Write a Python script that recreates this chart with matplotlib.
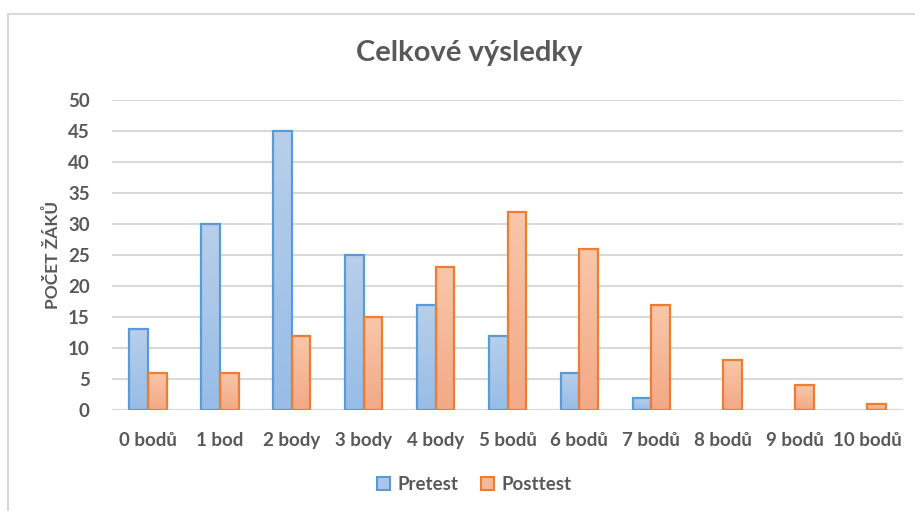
import numpy as np
import matplotlib.pyplot as plt
from matplotlib.colors import LinearSegmentedColormap
from matplotlib.patches import Patch

# Počty žáků podle získaných bodů
categories = ['0 bodů', '1 bod', '2 body', '3 body', '4 body', '5 bodů',
              '6 bodů', '7 bodů', '8 bodů', '9 bodů', '10 bodů']
pretest = [13, 30, 45, 25, 17, 12, 6, 2, 0, 0, 0]
posttest = [6, 6, 12, 15, 23, 32, 26, 17, 8, 4, 1]
y_ticks = [0, 5, 10, 15, 20, 25, 30, 35, 40, 45, 50]

TEXT = '#595959'
plt.rcParams['font.family'] = ['Lato', 'DejaVu Sans']
plt.rcParams['font.weight'] = 'bold'
plt.rcParams['axes.labelweight'] = 'bold'

fig = plt.figure(figsize=(9.15, 5.11), dpi=100)
ax = fig.add_axes([0.1224, 0.1977, 0.8645, 0.6066])

# rámeček grafu
fig.add_artist(plt.Line2D([0.0087, 0.0087], [0.0, 0.973], color='#d9d9d9', lw=1.5))
fig.add_artist(plt.Line2D([0.0087, 1.0], [0.973, 0.973], color='#d9d9d9', lw=1.5))

x = np.arange(len(categories))
w = 0.26

def gradient_bars(xs, vals, top_col, bot_col, edge):
    cmap = LinearSegmentedColormap.from_list('g', [bot_col, top_col])
    grad = np.linspace(0, 1, 64).reshape(-1, 1)
    bars = ax.bar(xs, vals, w, color='none', edgecolor=edge, linewidth=1.6, zorder=3)
    for b in bars:
        if b.get_height() <= 0:
            b.set_visible(False)
            continue
        x0, y0 = b.get_x(), b.get_y()
        im = ax.imshow(grad, cmap=cmap, aspect='auto', origin='lower',
                       extent=[x0, x0 + b.get_width(), y0, y0 + b.get_height()],
                       zorder=2)
        im.set_clip_path(b)
    return bars

gradient_bars(x - w / 2, pretest, '#b7cfea', '#98bde6', '#5b9bd5')
gradient_bars(x + w / 2, posttest, '#f9c6aa', '#f3a986', '#ed7d31')

ax.set_xlim(-0.5, len(categories) - 0.5)
ax.set_ylim(0, 50)
ax.set_yticks(y_ticks)
ax.set_xticks(x)
ax.set_xticklabels(categories)
ax.tick_params(axis='both', length=0, labelsize=13.5, labelcolor=TEXT)
ax.tick_params(axis='y', pad=16)
ax.tick_params(axis='x', pad=16)
ax.grid(axis='y', color='#d9d9d9', linewidth=1.5, zorder=0)
for s in ax.spines.values():
    s.set_visible(False)
ax.axhline(0, color='#d9d9d9', linewidth=1.5, zorder=1)

ax.set_ylabel('POČET ŽÁKŮ', fontsize=12.5, color=TEXT, labelpad=5)
fig.text(0.513, 0.897, 'Celkové výsledky', ha='center', va='center',
         fontsize=21, color=TEXT)

handles = [Patch(facecolor='#a9c7ea', edgecolor='#5b9bd5', linewidth=1.5, label='Pretest'),
           Patch(facecolor='#f6b897', edgecolor='#ed7d31', linewidth=1.5, label='Posttest')]
fig.legend(handles=handles, loc='center', bbox_to_anchor=(0.518, 0.051), ncol=2,
           frameon=False, fontsize=13.5, labelcolor=TEXT, handlelength=0.7,
           handleheight=0.7, handletextpad=0.4, columnspacing=1.2)

fig.savefig('out.png', dpi=100)
